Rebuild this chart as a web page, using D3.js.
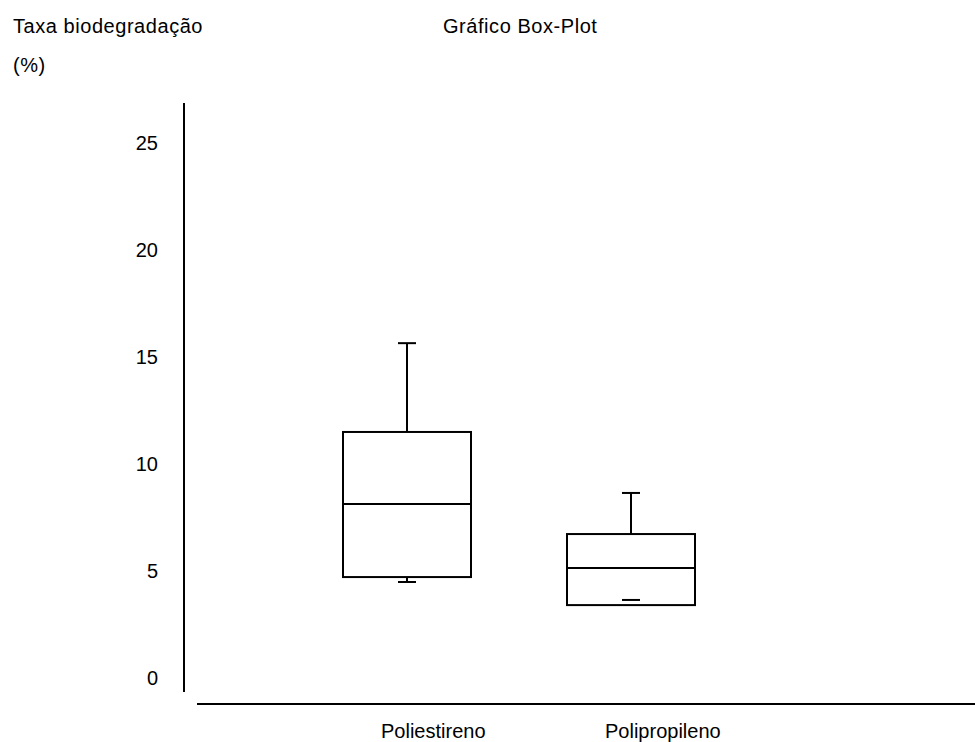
<!DOCTYPE html>
<html>
<head>
<meta charset="utf-8">
<script src="https://cdn.jsdelivr.net/npm/d3@7"></script>
<style>
    html, body { margin: 0; padding: 0; background: #fff; }
    #chart { width: 975px; height: 742px; }
    text { font-family: "Liberation Sans", Arial, sans-serif; font-size: 20px; fill: #000; }
    .heading { letter-spacing: 0.55px; }
</style>
</head>
<body>
<div id="chart"></div>
<script>
// Data
const categories = ["Poliestireno", "Polipropileno"];
const whiskerHigh = [15.6, 8.6];
const q3Values = [11.45, 6.68];
const medians = [8.08, 5.09];
const q1Values = [4.67, 3.36];
const whiskerLow = [4.44, 3.6];
const yTicks = [0, 5, 10, 15, 20, 25];

const width = 975;
const height = 742;

const boxes = categories.map((c, i) => ({
    name: c,
    high: whiskerHigh[i],
    q3: q3Values[i],
    median: medians[i],
    q1: q1Values[i],
    low: whiskerLow[i]
}));

const svg = d3.select("#chart")
    .append("svg")
    .attr("width", width)
    .attr("height", height);

// Scales
const y = d3.scaleLinear()
    .domain([0, 25])
    .range([677, 142]);

const x = d3.scalePoint()
    .domain(categories)
    .range([407, 631]);

const boxWidth = 128;
const capWidth = 18;

// Headings
svg.append("text")
    .attr("class", "heading")
    .attr("x", 13)
    .attr("y", 33)
    .text("Taxa biodegradação");

svg.append("text")
    .attr("class", "heading")
    .attr("x", 13)
    .attr("y", 72)
    .text("(%)");

svg.append("text")
    .attr("class", "heading")
    .attr("x", 443)
    .attr("y", 33)
    .text("Gráfico Box-Plot");

// Y axis: plain vertical line with labels only
svg.append("line")
    .attr("x1", 184).attr("x2", 184)
    .attr("y1", 103).attr("y2", 692)
    .attr("stroke", "#000")
    .attr("stroke-width", 2);

const yAxis = d3.axisLeft(y)
    .tickValues(yTicks)
    .tickSize(0)
    .tickPadding(0);

const yAxisG = svg.append("g")
    .attr("transform", "translate(158,0)")
    .call(yAxis);
yAxisG.select(".domain").remove();
yAxisG.selectAll("text")
    .attr("font-family", null)
    .attr("font-size", null)
    .attr("fill", null)
    .attr("dy", "0.36em");

// X axis: baseline plus category labels
svg.append("line")
    .attr("x1", 197).attr("x2", width)
    .attr("y1", 704).attr("y2", 704)
    .attr("stroke", "#000")
    .attr("stroke-width", 2);

svg.selectAll(".cat-label")
    .data(categories)
    .join("text")
    .attr("class", "cat-label")
    .attr("x", d => x(d) - 26)
    .attr("y", 738)
    .text(d => d);

// Box plots
const g = svg.selectAll(".box")
    .data(boxes)
    .join("g")
    .attr("class", "box")
    .attr("fill", "none")
    .attr("stroke", "#000")
    .attr("stroke-width", 2);

// upper whisker
g.append("line")
    .attr("x1", d => x(d.name)).attr("x2", d => x(d.name))
    .attr("y1", d => y(d.high)).attr("y2", d => y(d.q3));
g.append("line")
    .attr("x1", d => x(d.name) - capWidth / 2).attr("x2", d => x(d.name) + capWidth / 2)
    .attr("y1", d => y(d.high)).attr("y2", d => y(d.high));

// lower whisker (only drawn when it reaches below the box)
g.append("line")
    .attr("x1", d => x(d.name)).attr("x2", d => x(d.name))
    .attr("y1", d => y(d.q1)).attr("y2", d => Math.max(y(d.low), y(d.q1)));
g.append("line")
    .attr("x1", d => x(d.name) - capWidth / 2).attr("x2", d => x(d.name) + capWidth / 2)
    .attr("y1", d => y(d.low)).attr("y2", d => y(d.low));

// box
g.append("rect")
    .attr("x", d => x(d.name) - boxWidth / 2)
    .attr("y", d => y(d.q3))
    .attr("width", boxWidth)
    .attr("height", d => y(d.q1) - y(d.q3));

// median
g.append("line")
    .attr("x1", d => x(d.name) - boxWidth / 2).attr("x2", d => x(d.name) + boxWidth / 2)
    .attr("y1", d => y(d.median)).attr("y2", d => y(d.median));
</script>
</body>
</html>
